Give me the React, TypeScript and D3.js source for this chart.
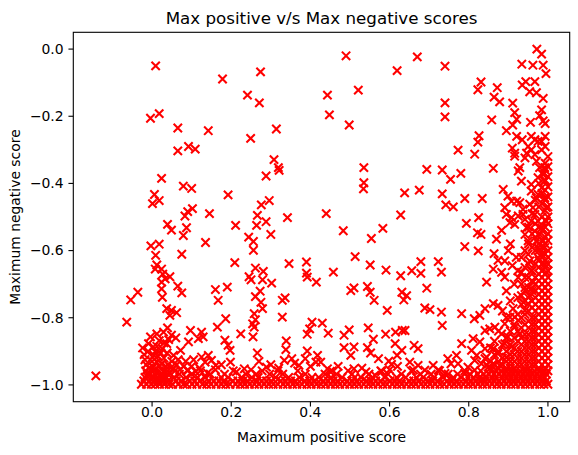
import React from "react";
import * as d3 from "d3";

// scatter of max positive vs max negative score

const upperPoints: [number, number][] = [
  [0.009, -0.05], [0.178, -0.089], [-0.004, -0.206], [0.018, -0.192], [0.065, -0.235],
  [0.142, -0.243], [0.065, -0.303], [0.092, -0.29], [0.109, -0.298],
  [0.274, -0.068], [0.241, -0.137], [0.271, -0.16], [0.314, -0.238], [0.249, -0.266],
  [0.49, -0.02], [0.619, -0.064], [0.443, -0.137], [0.521, -0.122], [0.448, -0.196], [0.498, -0.226],
  [0.67, -0.023], [0.74, -0.051], [0.74, -0.16], [0.74, -0.202], [0.831, -0.098], [0.823, -0.121],
  [0.872, -0.115], [0.864, -0.143], [0.878, -0.157], [0.858, -0.211], [0.911, -0.161], [0.916, -0.189],
  [0.921, -0.209], [0.911, -0.226], [0.895, -0.243], [0.826, -0.258], [0.823, -0.277], [0.773, -0.301],
  [0.815, -0.313], [0.921, -0.26], [0.935, -0.27], [0.91, -0.295], [0.916, -0.31], [0.934, -0.045],
  [0.935, -0.107], [0.944, -0.097], [0.954, -0.127], [0.967, -0.097], [0.972, 0.0], [0.984, -0.015],
  [0.962, -0.048], [0.988, -0.048], [0.995, -0.073], [0.971, -0.13], [0.988, -0.147], [0.984, -0.181],
  [0.979, -0.198], [0.988, -0.214], [0.993, -0.222], [0.956, -0.218], [0.958, -0.26], [0.967, -0.27],
  [0.975, -0.275], [0.984, -0.275], [0.95, -0.29], [0.958, -0.3], [0.984, -0.3], [0.946, -0.31],
];

const middlePoints: [number, number][] = [
  [0.024, -0.385], [0.079, -0.408], [0.1, -0.415], [0.192, -0.434], [0.006, -0.433], [0.018, -0.451],
  [0.001, -0.46], [0.145, -0.49], [0.102, -0.475], [0.09, -0.484], [0.083, -0.497], [0.039, -0.522],
  [0.049, -0.539], [0.087, -0.532], [0.079, -0.555], [0.211, -0.525], [-0.003, -0.586], [0.018, -0.581],
  [0.009, -0.614], [0.135, -0.576], [0.075, -0.611], [0.209, -0.636], [0.012, -0.643], [0.008, -0.655],
  [0.024, -0.655], [0.027, -0.67], [0.045, -0.678],
  [0.308, -0.329], [0.319, -0.353], [0.321, -0.361], [0.288, -0.378], [0.296, -0.451], [0.276, -0.464],
  [0.266, -0.495], [0.288, -0.514], [0.264, -0.525], [0.342, -0.502], [0.3, -0.552], [0.244, -0.56],
  [0.256, -0.573], [0.256, -0.599], [0.44, -0.49], [0.483, -0.541], [0.535, -0.353], [0.535, -0.398],
  [0.534, -0.416], [0.638, -0.428], [0.628, -0.494], [0.583, -0.534], [0.554, -0.564], [0.513, -0.618],
  [0.551, -0.643], [0.591, -0.658], [0.628, -0.675], [0.346, -0.639], [0.39, -0.634], [0.39, -0.667],
  [0.458, -0.664], [0.261, -0.652], [0.281, -0.662], [0.245, -0.678],
  [0.694, -0.358], [0.733, -0.36], [0.754, -0.388], [0.78, -0.37], [0.862, -0.355], [0.675, -0.42],
  [0.733, -0.431], [0.79, -0.445], [0.834, -0.445], [0.742, -0.464], [0.761, -0.47], [0.794, -0.519],
  [0.825, -0.502], [0.822, -0.547], [0.831, -0.552], [0.79, -0.588], [0.824, -0.601], [0.679, -0.633],
  [0.723, -0.633], [0.656, -0.66], [0.679, -0.668], [0.731, -0.664], [0.887, -0.418], [0.883, -0.54],
  [0.87, -0.566], [0.864, -0.609], [0.874, -0.629], [0.891, -0.631], [0.862, -0.655], [0.883, -0.665],
  [0.9, -0.6], [0.91, -0.645], [0.905, -0.58], [0.92, -0.62], [0.925, -0.68],
];

const rightCluster: [number, number][] = [
  [0.899, -0.438], [0.908, -0.453], [0.921, -0.453], [0.929, -0.457], [0.891, -0.472], [0.895, -0.492],
  [0.908, -0.502], [0.925, -0.497], [0.937, -0.492], [0.942, -0.507], [0.916, -0.522], [0.904, -0.517],
  [0.954, -0.462], [0.962, -0.472], [0.971, -0.443], [0.975, -0.433], [0.984, -0.413], [0.992, -0.393],
  [0.975, -0.383], [0.988, -0.373], [0.992, -0.353], [0.979, -0.353], [0.971, -0.334], [0.967, -0.314],
  [0.942, -0.324], [0.916, -0.319], [0.929, -0.353], [0.925, -0.363], [0.933, -0.393], [0.958, -0.403],
  [0.958, -0.423], [0.967, -0.492], [0.975, -0.512], [0.984, -0.532], [0.967, -0.542], [0.979, -0.552],
  [0.988, -0.571], [0.992, -0.591], [0.984, -0.611], [0.975, -0.621], [0.95, -0.611], [0.954, -0.631],
  [0.942, -0.65], [0.933, -0.665], [0.958, -0.66], [0.992, -0.641], [0.996, -0.665], [0.942, -0.552],
  [0.95, -0.571], [0.946, -0.532], [0.937, -0.477], [0.996, -0.472], [0.992, -0.443], [0.996, -0.512],
  [0.958, -0.512], [0.971, -0.571], [0.975, -0.591],
];

const lowerPoints: [number, number][] = [
  [-0.142, -0.973], [-0.064, -0.813], [-0.054, -0.747], [-0.036, -0.724], [0.024, -0.694], [0.033, -0.684],
  [0.024, -0.714], [0.026, -0.739], [0.065, -0.706], [0.075, -0.726], [0.16, -0.716], [0.19, -0.709],
  [0.167, -0.748], [0.037, -0.773], [0.049, -0.778], [0.062, -0.785], [0.045, -0.793], [0.186, -0.803],
  [0.165, -0.828], [0.039, -0.83], [0.029, -0.843], [0.049, -0.852], [0.012, -0.848], [-0.004, -0.857],
  [0.003, -0.887], [-0.024, -0.89], [-0.009, -0.877], [0.037, -0.877], [0.072, -0.897], [0.092, -0.872],
  [0.097, -0.838], [0.125, -0.843], [0.117, -0.862], [0.129, -0.857], [0.054, -0.912], [0.125, -0.917],
  [0.142, -0.912], [0.15, -0.927], [0.134, -0.932], [0.161, -0.942], [0.184, -0.867], [0.192, -0.882],
  [0.197, -0.897], [0.198, -0.932], [0.213, -0.961], [0.001, -0.917], [0.012, -0.932], [0.024, -0.937],
  [0.003, -0.947], [0.047, -0.949],
  [-0.02, -0.91], [-0.01, -0.9], [0.0, -0.93], [0.008, -0.9], [0.015, -0.915], [0.022, -0.905],
  [0.03, -0.92], [0.038, -0.905], [-0.015, -0.94], [0.006, -0.955], [0.018, -0.945], [0.028, -0.96],
  [0.04, -0.94], [-0.005, -0.965], [0.045, -0.965], [0.055, -0.95], [0.062, -0.94], [0.07, -0.955],
  [0.08, -0.945], [0.09, -0.955], [0.1, -0.945], [0.11, -0.96], [0.12, -0.95], [0.03, -0.875],
  [0.042, -0.865], [0.018, -0.868], [0.06, -0.86],
  [-0.018, -0.925], [-0.008, -0.95], [0.005, -0.912], [0.012, -0.885], [0.026, -0.893], [0.035, -0.945],
  [0.02, -0.972], [-0.012, -0.975], [0.05, -0.93], [0.066, -0.925], [0.085, -0.93], [0.105, -0.925],
  [0.16, -0.955], [0.175, -0.94], [0.14, -0.965],
  [0.25, -0.687], [0.279, -0.687], [0.302, -0.697], [0.273, -0.721], [0.261, -0.737], [0.275, -0.754],
  [0.279, -0.773], [0.258, -0.788], [0.261, -0.806], [0.254, -0.818], [0.258, -0.828], [0.224, -0.848],
  [0.255, -0.857], [0.266, -0.905], [0.329, -0.748], [0.336, -0.741], [0.329, -0.798], [0.415, -0.694],
  [0.392, -0.679], [0.339, -0.869], [0.338, -0.895], [0.353, -0.922], [0.334, -0.927], [0.289, -0.947],
  [0.233, -0.952], [0.404, -0.813], [0.43, -0.816], [0.398, -0.833], [0.392, -0.849], [0.445, -0.846],
  [0.392, -0.899], [0.418, -0.912], [0.387, -0.922], [0.414, -0.932], [0.426, -0.932], [0.371, -0.942],
  [0.443, -0.952], [0.51, -0.711], [0.502, -0.719], [0.544, -0.707], [0.551, -0.724], [0.561, -0.748],
  [0.594, -0.778], [0.631, -0.724], [0.636, -0.747], [0.498, -0.836], [0.485, -0.852], [0.546, -0.83],
  [0.559, -0.864], [0.59, -0.849], [0.615, -0.843], [0.632, -0.838], [0.614, -0.877], [0.485, -0.889],
  [0.51, -0.887], [0.502, -0.912], [0.544, -0.889], [0.552, -0.905], [0.572, -0.922], [0.598, -0.929],
  [0.605, -0.939], [0.619, -0.912], [0.51, -0.952], [0.54, -0.961], [0.563, -0.971], [0.631, -0.897],
  [0.3, -0.94], [0.32, -0.95], [0.36, -0.935], [0.4, -0.945], [0.45, -0.96], [0.47, -0.945],
  [0.53, -0.95], [0.58, -0.96], [0.6, -0.955], [0.62, -0.945], [0.25, -0.955], [0.27, -0.93],
  [0.694, -0.712], [0.643, -0.734], [0.689, -0.771], [0.702, -0.776], [0.731, -0.783], [0.733, -0.823],
  [0.782, -0.788], [0.845, -0.694], [0.891, -0.679], [0.814, -0.803], [0.828, -0.793], [0.841, -0.773],
  [0.862, -0.758], [0.874, -0.763], [0.912, -0.773], [0.916, -0.798], [0.933, -0.734], [0.938, -0.754],
  [0.639, -0.838], [0.662, -0.882], [0.672, -0.892], [0.651, -0.932], [0.672, -0.942], [0.71, -0.942],
  [0.782, -0.877], [0.811, -0.862], [0.769, -0.912], [0.747, -0.922], [0.755, -0.937], [0.773, -0.937],
  [0.841, -0.838], [0.828, -0.872], [0.841, -0.892], [0.845, -0.917], [0.82, -0.912], [0.798, -0.947],
  [0.853, -0.833], [0.866, -0.828], [0.883, -0.848], [0.891, -0.877], [0.874, -0.907], [0.862, -0.892],
  [0.899, -0.857], [0.908, -0.887], [0.895, -0.917], [0.916, -0.828], [0.925, -0.808], [0.929, -0.848],
  [0.891, -0.818], [0.904, -0.798], [0.942, -0.778], [0.95, -0.758], [0.954, -0.734], [0.958, -0.714],
  [0.962, -0.694], [0.942, -0.719], [0.832, -0.937], [0.849, -0.947], [0.815, -0.956], [0.79, -0.966],
  [0.862, -0.937], [0.878, -0.942], [0.841, -0.922], [0.807, -0.897], [0.815, -0.927], [0.74, -0.966],
  [0.723, -0.956], [0.689, -0.956], [0.66, -0.956],
];

// the dense band along the bottom, one row of x values per y level
const bandY = [-0.998, -0.988, -0.978, -0.968, -0.958];
const bandX: number[][] = [
  [-0.027, -0.014, -0.002, 0.008, 0.019, 0.031, 0.043, 0.052, 0.066, 0.079, 0.088, 0.101, 0.113, 0.127,
    0.138, 0.149, 0.162, 0.175, 0.186, 0.197, 0.211, 0.223, 0.234, 0.246, 0.259, 0.27, 0.283, 0.295,
    0.306, 0.318, 0.331, 0.342, 0.355, 0.366, 0.379, 0.391, 0.402, 0.415, 0.427, 0.438, 0.451, 0.463,
    0.474, 0.487, 0.499, 0.511, 0.522, 0.535, 0.547, 0.558, 0.571, 0.583, 0.594, 0.607, 0.619, 0.63,
    0.643, 0.655, 0.666, 0.679, 0.691, 0.702, 0.715, 0.727, 0.738, 0.751, 0.763, 0.774, 0.787, 0.799,
    0.81, 0.823, 0.835, 0.846, 0.859, 0.871, 0.882, 0.895, 0.907, 0.918, 0.931, 0.943, 0.954, 0.967,
    0.979, 0.99, 1.0],
  [-0.021, -0.008, 0.005, 0.016, 0.028, 0.04, 0.061, 0.074, 0.095, 0.108, 0.121, 0.143, 0.156, 0.169,
    0.181, 0.204, 0.217, 0.229, 0.241, 0.265, 0.277, 0.289, 0.301, 0.325, 0.337, 0.35, 0.362, 0.386,
    0.398, 0.41, 0.433, 0.445, 0.457, 0.469, 0.493, 0.505, 0.517, 0.541, 0.553, 0.565, 0.577, 0.601,
    0.613, 0.625, 0.649, 0.661, 0.673, 0.697, 0.709, 0.721, 0.745, 0.757, 0.769, 0.793, 0.805, 0.817,
    0.829, 0.841, 0.853, 0.865, 0.877, 0.889, 0.901, 0.913, 0.925, 0.937, 0.949, 0.961, 0.973, 0.985, 0.996],
  [-0.018, 0.002, 0.013, 0.025, 0.037, 0.055, 0.086, 0.115, 0.134, 0.175, 0.192, 0.226, 0.252, 0.268,
    0.312, 0.345, 0.372, 0.404, 0.421, 0.452, 0.48, 0.512, 0.528, 0.557, 0.588, 0.618, 0.641, 0.668,
    0.685, 0.712, 0.735, 0.761, 0.781, 0.798, 0.812, 0.827, 0.843, 0.858, 0.869, 0.884, 0.896, 0.908,
    0.92, 0.932, 0.944, 0.956, 0.968, 0.98, 0.992],
  [-0.012, 0.007, 0.021, 0.04, 0.069, 0.1, 0.147, 0.183, 0.237, 0.263, 0.297, 0.33, 0.387, 0.437,
    0.466, 0.505, 0.548, 0.596, 0.63, 0.678, 0.705, 0.748, 0.772, 0.803, 0.823, 0.838, 0.851, 0.864,
    0.876, 0.888, 0.9, 0.912, 0.924, 0.936, 0.948, 0.96, 0.972, 0.984, 0.996],
  [-0.016, 0.004, 0.018, 0.032, 0.058, 0.09, 0.122, 0.205, 0.278, 0.318, 0.368, 0.455, 0.495, 0.578,
    0.655, 0.726, 0.79, 0.83, 0.856, 0.87, 0.882, 0.894, 0.906, 0.918, 0.93, 0.942, 0.954, 0.966,
    0.978, 0.99, 1.0],
];

// the wedge of points packed against x = 1, one column of y values per x
const wedgeX = [1.0, 0.993, 0.985, 0.977, 0.968, 0.96, 0.951, 0.942, 0.933, 0.924, 0.915, 0.905, 0.895,
  0.885, 0.875, 0.865, 0.855, 0.845];
const wedgeY: number[][] = [
  [-0.32, -0.35, -0.38, -0.41, -0.44, -0.47, -0.5, -0.52, -0.55, -0.57, -0.6, -0.62, -0.64, -0.66, -0.68,
    -0.7, -0.72, -0.74, -0.76, -0.78, -0.8, -0.82, -0.84, -0.86, -0.88, -0.9, -0.92, -0.94],
  [-0.26, -0.29, -0.34, -0.36, -0.39, -0.42, -0.45, -0.48, -0.51, -0.53, -0.56, -0.58, -0.61, -0.63,
    -0.65, -0.67, -0.69, -0.71, -0.73, -0.75, -0.77, -0.79, -0.81, -0.83, -0.85, -0.87, -0.89, -0.91,
    -0.93, -0.95],
  [-0.37, -0.43, -0.46, -0.5, -0.54, -0.57, -0.59, -0.62, -0.64, -0.66, -0.68, -0.7, -0.72, -0.74, -0.76,
    -0.78, -0.8, -0.82, -0.84, -0.86, -0.88, -0.9, -0.92, -0.94],
  [-0.4, -0.47, -0.53, -0.58, -0.6, -0.63, -0.65, -0.67, -0.69, -0.71, -0.73, -0.75, -0.77, -0.79, -0.81,
    -0.83, -0.85, -0.87, -0.89, -0.91, -0.93, -0.95],
  [-0.45, -0.52, -0.56, -0.6, -0.64, -0.68, -0.7, -0.72, -0.74, -0.76, -0.78, -0.8, -0.82, -0.84, -0.86,
    -0.88, -0.9, -0.92, -0.94],
  [-0.49, -0.55, -0.59, -0.66, -0.69, -0.72, -0.75, -0.77, -0.8, -0.82, -0.84, -0.86, -0.88, -0.9, -0.92, -0.94],
  [-0.53, -0.58, -0.64, -0.68, -0.71, -0.74, -0.78, -0.81, -0.83, -0.85, -0.87, -0.89, -0.91, -0.93, -0.95],
  [-0.6, -0.68, -0.71, -0.75, -0.79, -0.82, -0.85, -0.87, -0.89, -0.91, -0.93, -0.95],
  [-0.62, -0.7, -0.76, -0.8, -0.83, -0.86, -0.88, -0.9, -0.92, -0.94],
  [-0.66, -0.74, -0.79, -0.84, -0.87, -0.9, -0.92, -0.94],
  [-0.7, -0.82, -0.86, -0.89, -0.91, -0.93, -0.95],
  [-0.75, -0.84, -0.88, -0.91, -0.93, -0.95],
  [-0.72, -0.8, -0.86, -0.9, -0.93, -0.95],
  [-0.78, -0.88, -0.92, -0.94],
  [-0.84, -0.9, -0.93, -0.95],
  [-0.87, -0.91, -0.94],
  [-0.89, -0.93, -0.95],
  [-0.94],
];

const xTicks = [0, 0.2, 0.4, 0.6, 0.8, 1.0];
const yTicks = [0, -0.2, -0.4, -0.6, -0.8, -1.0];

const W = 578;
const H = 455;
const margin = { top: 32.3, right: 8.3, bottom: 53.3, left: 73.3 };
const FONT = "DejaVu Sans, sans-serif";

const App: React.FC = () => {
  const innerW = W - margin.left - margin.right;
  const innerH = H - margin.top - margin.bottom;

  const x = d3.scaleLinear().domain([-0.199, 1.055]).range([0, innerW]);
  const y = d3.scaleLinear().domain([-1.05, 0.05]).range([innerH, 0]);
  const fmt = d3.format(".1f");

  const points: [number, number][] = [
    ...upperPoints,
    ...middlePoints,
    ...rightCluster,
    ...lowerPoints,
    ...bandY.flatMap((yy, i) => bandX[i].map((xx) => [xx, yy] as [number, number])),
    ...wedgeX.flatMap((xx, i) => wedgeY[i].map((yy) => [xx, yy] as [number, number])),
  ];

  const r = 4.17; // half of a 6pt 'x' marker
  const cross = `M${-r},${-r}L${r},${r}M${-r},${r}L${r},${-r}`;

  return (
    <svg
      width={W}
      height={H}
      style={{ position: "absolute", left: 0, top: 0, background: "#fff" }}
      fontFamily={FONT}
    >
      <rect width={W} height={H} fill="#fff" />
      <text x={margin.left + innerW / 2} y={24} textAnchor="middle" fontSize={16.7} fill="#000">
        Max positive v/s Max negative scores
      </text>
      <g transform={`translate(${margin.left},${margin.top})`}>
        <g>
          {points.map(([px, py], i) => (
            <path
              key={i}
              d={cross}
              transform={`translate(${x(px)},${y(py)})`}
              stroke="#ff0000"
              strokeWidth={2.08}
              fill="none"
            />
          ))}
        </g>
        <rect width={innerW} height={innerH} fill="none" stroke="#000" strokeWidth={1.1} />
        {xTicks.map((t) => (
          <g key={t} transform={`translate(${x(t)},${innerH})`}>
            <line y2={4.86} stroke="#000" strokeWidth={1.1} />
            <text y={15.5} textAnchor="middle" fontSize={13.9} fill="#000">
              {fmt(t)}
            </text>
          </g>
        ))}
        {yTicks.map((t) => (
          <g key={t} transform={`translate(0,${y(t)})`}>
            <line x2={-4.86} stroke="#000" strokeWidth={1.1} />
            <text x={-9.7} dy="0.35em" textAnchor="end" fontSize={13.9} fill="#000">
              {fmt(t)}
            </text>
          </g>
        ))}
        <text x={innerW / 2} y={innerH + 40} textAnchor="middle" fontSize={13.9} fill="#000">
          Maximum positive score
        </text>
        <text
          transform={`translate(${-53.5},${innerH / 2}) rotate(-90)`}
          textAnchor="middle"
          fontSize={13.9}
          fill="#000"
        >
          Maximum negative score
        </text>
      </g>
    </svg>
  );
};

export default App;
